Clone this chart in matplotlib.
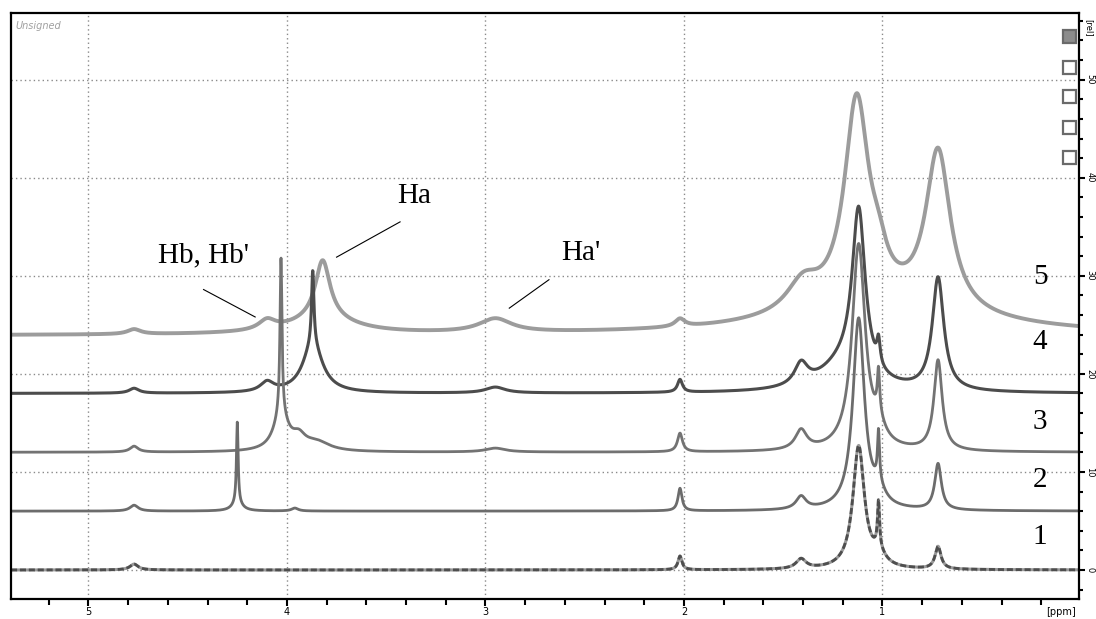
import numpy as np
import matplotlib
matplotlib.use("Agg")
import matplotlib.pyplot as plt
from matplotlib.patches import Rectangle

# ---------------- data ----------------
ppm_range = (5.39, 0.01)
labels = ["1", "2", "3", "4", "5"]
offsets = [0.0, 6.0, 12.0, 18.0, 23.9]
colors = ["#5e5e5e", "#6c6c6c", "#737373", "#4c4c4c", "#9c9c9c"]
widths_lw = [2.0, 2.0, 2.0, 2.2, 2.8]

# peak tables: centres (ppm), heights (rel), half widths (ppm)
s1_c = [4.77, 2.02, 1.41, 1.12, 1.02, 1.02, 0.72]
s1_h = [0.6, 1.4, 1.0, 12.5, 4.6, 1.2, 2.3]
s1_w = [0.025, 0.012, 0.03, 0.035, 0.006, 0.04, 0.018]

s2_c = [4.77, 4.25, 4.25, 3.96, 2.02, 1.41, 1.12, 1.02, 1.02, 0.72]
s2_h = [0.6, 8.3, 0.8, 0.3, 2.3, 1.3, 19.5, 5.0, 1.3, 4.7]
s2_w = [0.025, 0.005, 0.03, 0.02, 0.012, 0.03, 0.035, 0.006, 0.04, 0.02]

s3_c = [4.77, 4.03, 4.03, 3.94, 3.85, 2.95, 2.02, 1.41, 1.12, 1.02, 1.02, 0.72]
s3_h = [0.6, 16.0, 3.5, 1.2, 0.9, 0.4, 1.9, 2.0, 21.0, 4.3, 1.5, 9.2]
s3_w = [0.025, 0.006, 0.045, 0.04, 0.08, 0.06, 0.015, 0.035, 0.04, 0.007, 0.04, 0.025]

s4_c = [4.77, 4.10, 3.87, 3.87, 2.95, 2.02, 1.41, 1.20, 1.12, 1.02, 0.72]
s4_h = [0.5, 1.0, 7.5, 5.0, 0.6, 1.3, 2.2, 2.5, 17.0, 2.5, 11.5]
s4_w = [0.03, 0.04, 0.007, 0.06, 0.06, 0.015, 0.04, 0.15, 0.04, 0.01, 0.035]

s5_c = [4.77, 4.10, 3.82, 3.82, 2.95, 2.02, 1.40, 1.13, 1.02, 0.72, 1.00]
s5_h = [0.5, 1.0, 6.0, 1.5, 1.4, 0.8, 3.0, 21.0, 2.5, 16.3, 2.5]
s5_w = [0.04, 0.05, 0.045, 0.2, 0.1, 0.03, 0.1, 0.075, 0.05, 0.075, 0.6]

peak_tables = [(s1_c, s1_h, s1_w), (s2_c, s2_h, s2_w), (s3_c, s3_h, s3_w),
               (s4_c, s4_h, s4_w), (s5_c, s5_h, s5_w)]

x_major = [5, 4, 3, 2, 1]
y_major = [0, 10, 20, 30, 40, 50]

# ---------------- figure ----------------
fig = plt.figure(figsize=(10.96, 6.19), dpi=100)
ax = fig.add_axes([11 / 1096, 1 - 599 / 619, (1079 - 11) / 1096, (599 - 13) / 619])

ppm = np.linspace(ppm_range[0], ppm_range[1], 5000)


def lorentz_sum(x, cs, hs, ws):
    y = np.zeros_like(x)
    for c, h, w in zip(cs, hs, ws):
        y += h / (1.0 + ((x - c) / w) ** 2)
    return y


# grid first (behind)
for xv in x_major:
    ax.axvline(xv, color="#8a8a8a", lw=1.0, ls=(0, (1, 2.2)), zorder=0)
for yv in y_major:
    ax.axhline(yv, color="#8a8a8a", lw=1.0, ls=(0, (1, 2.2)), zorder=0)

for i, (cs, hs, ws) in enumerate(peak_tables):
    y = offsets[i] + lorentz_sum(ppm, cs, hs, ws)
    z = 2 + (4 - i) * 0.1
    if i == 0:
        # the lowest trace looks slightly noisy / dashed in the reference
        ax.plot(ppm, y, color="#9a9a9a", lw=2.2, zorder=z)
        ax.plot(ppm, y, color="#4e4e4e", lw=2.0, ls=(0, (2.2, 1.0)), zorder=z + 0.01)
    else:
        ax.plot(ppm, y, color=colors[i], lw=widths_lw[i], zorder=z,
                solid_joinstyle="round")

ax.set_xlim(*ppm_range)
ax.set_ylim(-2.96, 56.8)

# ticks
ax.set_xticks(x_major)
ax.set_xticks(np.arange(0.2, 5.4, 0.2), minor=True)
ax.set_yticks(y_major)
ax.set_yticks(np.arange(-2, 57, 2), minor=True)
ax.yaxis.tick_right()
ax.tick_params(axis="x", which="major", direction="out", length=5, width=1.5,
               labelsize=7, pad=1)
ax.tick_params(axis="x", which="minor", direction="out", length=4, width=1.5)
ax.tick_params(axis="y", which="major", direction="out", length=4, width=1.5,
               labelsize=6, pad=0.5, labelrotation=-90)
ax.tick_params(axis="y", which="minor", direction="out", length=3, width=1.5)
for lab in ax.get_yticklabels():
    lab.set_ha("left")
    lab.set_va("center")

for sp in ax.spines.values():
    sp.set_linewidth(1.6)

# units
ax.text(1.0045, 0.975, "[rel]", transform=ax.transAxes, rotation=-90,
        fontsize=6, ha="left", va="center")
ax.text(0.983, -0.014, "[ppm]", transform=ax.transAxes, fontsize=7,
        ha="center", va="top")

# "Unsigned" watermark
ax.text(0.004, 0.978, "Unsigned", transform=ax.transAxes, fontsize=7,
        style="italic", color="#a0a0a0", ha="left", va="center")

# legend-like squares at the top right
sq_y = [36, 67, 96, 127, 157]
for k, yc in enumerate(sq_y):
    yf = 1 - yc / 619
    fc = "#8c8c8c" if k == 0 else "none"
    fig.patches.append(Rectangle(((1063) / 1096, yf - 7 / 619), 13 / 1096, 13 / 619,
                                 transform=fig.transFigure, facecolor=fc,
                                 edgecolor="#6a6a6a", lw=1.6))

# spectrum numbers
serif = ["Liberation Serif", "DejaVu Serif"]
num_y = [3.4, 9.2, 15.1, 23.2, 29.9]
for lab, yv in zip(labels, num_y):
    ax.text(0.206, yv, lab, fontsize=21, family=serif, ha="center", va="center")

# annotations
ax.text(4.42, 32.1, "Hb, Hb'", fontsize=21, family=serif, ha="center", va="center")
ax.plot([4.42, 4.16], [28.6, 25.8], color="black", lw=0.8)
ax.text(3.36, 38.1, "Ha", fontsize=21, family=serif, ha="center", va="center")
ax.plot([3.43, 3.75], [35.5, 31.9], color="black", lw=0.8)
ax.text(2.52, 32.3, "Ha'", fontsize=21, family=serif, ha="center", va="center")
ax.plot([2.68, 2.88], [29.6, 26.7], color="black", lw=0.8)

fig.savefig("out.png", dpi=100)
